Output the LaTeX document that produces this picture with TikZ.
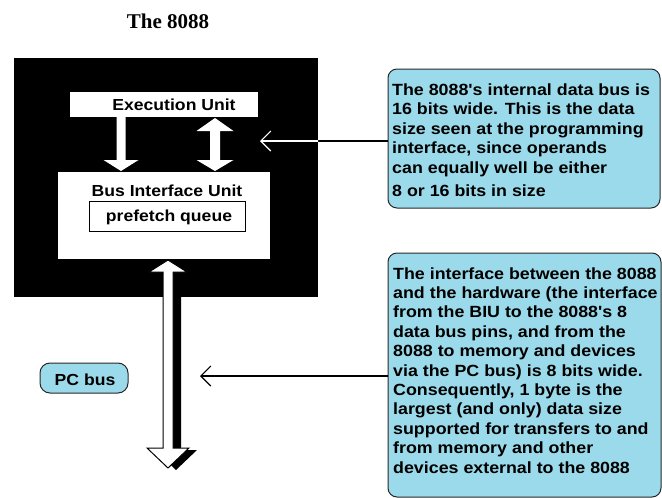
\documentclass[tikz,border=0pt]{standalone}
\usepackage{fontspec}
\setmainfont{Liberation Serif}
\newfontfamily\sysf[FakeStretch=1.1]{Liberation Sans}
\usetikzlibrary{arrows.meta,calc}
\definecolor{callblue}{RGB}{155,218,234}
\definecolor{edgegray}{RGB}{40,40,40}
\tikzset{
  whitebox/.style={fill=white, draw=none, inner sep=0},
  lbl/.style={font=\sysf\bfseries\fontsize{16}{16}\selectfont, inner sep=0, anchor=base},
  callout/.style={fill=callblue, draw=edgegray, line width=1pt, rounded corners=9pt, inner sep=0},
  calltext/.style={font=\sysf\bfseries\fontsize{16.2}{19.4}\selectfont, align=left, inner sep=0, anchor=base west},
  conn/.style={draw=black, line width=1.1pt, -{Straight Barb[length=10pt,width=20pt,line width=1.1pt]}},
  blockw/.style={fill=white, draw=none},
  blockline/.style={fill=white, draw=black, line width=1pt},
  blockshadow/.style={fill=black, draw=none},
}
% vertical block arrow pointing down: #1 style, #2 top coord, #3 tip coord, #4 shaft half, #5 head half, #6 head length
\newcommand\blkdown[6]{%
  \path[#1] let \p1=(#2), \p2=(#3) in
    (\x1-#4,\y1) -- (\x1-#4,\y2+#6) -- (\x1-#5,\y2+#6) -- (\x2,\y2) --
    (\x1+#5,\y2+#6) -- (\x1+#4,\y2+#6) -- (\x1+#4,\y1) -- cycle;}
% double-headed vertical block arrow: #1 style, #2 top tip, #3 bottom tip, #4 shaft half, #5 top head half, #6 top head len, #7 bottom head half, #8 bottom head len
\newcommand\blkdouble[8]{%
  \path[#1] let \p1=(#2), \p2=(#3) in
    (\x1,\y1) -- (\x1+#5,\y1-#6) -- (\x1+#4,\y1-#6) -- (\x1+#4,\y2+#8) --
    (\x1+#7,\y2+#8) -- (\x2,\y2) -- (\x1-#7,\y2+#8) -- (\x1-#4,\y2+#8) --
    (\x1-#4,\y1-#6) -- (\x1-#5,\y1-#6) -- cycle;}
\begin{document}
\begin{tikzpicture}[x=1pt,y=-1pt]
\useasboundingbox (0,0) rectangle (662,498);
\fill[white] (0,0) rectangle (662,498);

% title
\node[font=\bfseries\fontsize{21}{21}\selectfont, inner sep=0, anchor=base] (title) at (168,28) {The 8088};

% chip
\node[fill=black, minimum width=304pt, minimum height=239pt, inner sep=0] (chip) at (166,177.5) {};
\node[whitebox, minimum width=188pt, minimum height=25pt] (eu) at (164,104.5) {};
\node[lbl] (eut) at (174,110) {Execution Unit};
\node[whitebox, minimum width=212pt, minimum height=87pt] (biu) at (164,215.5) {};
\node[lbl] (biut) at (167,196) {Bus Interface Unit};
\node[fill=white, draw=black, line width=1pt, minimum width=156pt, minimum height=30pt, inner sep=0] (pq) at (167,216) {};
\node[lbl] (pqt) at (169,221) {prefetch queue};

% internal arrows
\coordinate (a1top) at (121,117);
\coordinate (a1tip) at (121,171);
\blkdown{blockw}{a1top}{a1tip}{4.5pt}{17.5pt}{11pt}
\coordinate (a2top) at (215,118);
\coordinate (a2tip) at (215,171);
\blkdouble{blockw}{a2top}{a2tip}{5pt}{18.5pt}{13pt}{18.5pt}{11pt}

% PC bus arrow
\coordinate (bustop) at (168,260);
\coordinate (busbot) at (168,468);
\blkdouble{blockshadow}{$(bustop)+(8,2)$}{$(busbot)+(8,2)$}{5pt}{19pt}{12pt}{21pt}{20pt}
\blkdouble{blockline}{bustop}{busbot}{5pt}{19pt}{12pt}{21pt}{20pt}

% PC bus label
\node[callout, rounded corners=10pt, minimum width=88pt, minimum height=30pt] (pcbus) at (84,378) {};
\node[lbl] (pcbust) at (85,385) {PC bus};

% callouts
\node[callout, minimum width=272pt, minimum height=139pt] (c1) at (524,138.5) {};
\node[calltext] (c1t) at (392,196) {The 8088's internal data bus is\\16 bits wide. This is the data\\size seen at the programming\\interface, since operands\\can equally well be either\\[3.5pt]8 or 16 bits in size};
\node[callout, minimum width=273pt, minimum height=244pt] (c2) at (524.5,375) {};
\node[calltext] (c2t) at (393,473) {The interface between the 8088\\and the hardware (the interface\\from the BIU to the 8088's 8\\data bus pins, and from the\\8088 to memory and devices\\via the PC bus) is 8 bits wide.\\Consequently, 1 byte is the\\largest (and only) data size\\supported for transfers to and\\from memory and other\\devices external to the 8088};

% connectors
\coordinate (t1) at (260,141);
\coordinate (t2) at (200,376);
\draw[conn] (c1.west |- t1) -- (t1);
\begin{scope}
  \clip (chip.north west) rectangle (chip.south east);
  \draw[conn, draw=white] (c1.west |- t1) -- (t1);
\end{scope}
\draw[conn] (c2.west |- t2) -- (t2);
\end{tikzpicture}
\end{document}
